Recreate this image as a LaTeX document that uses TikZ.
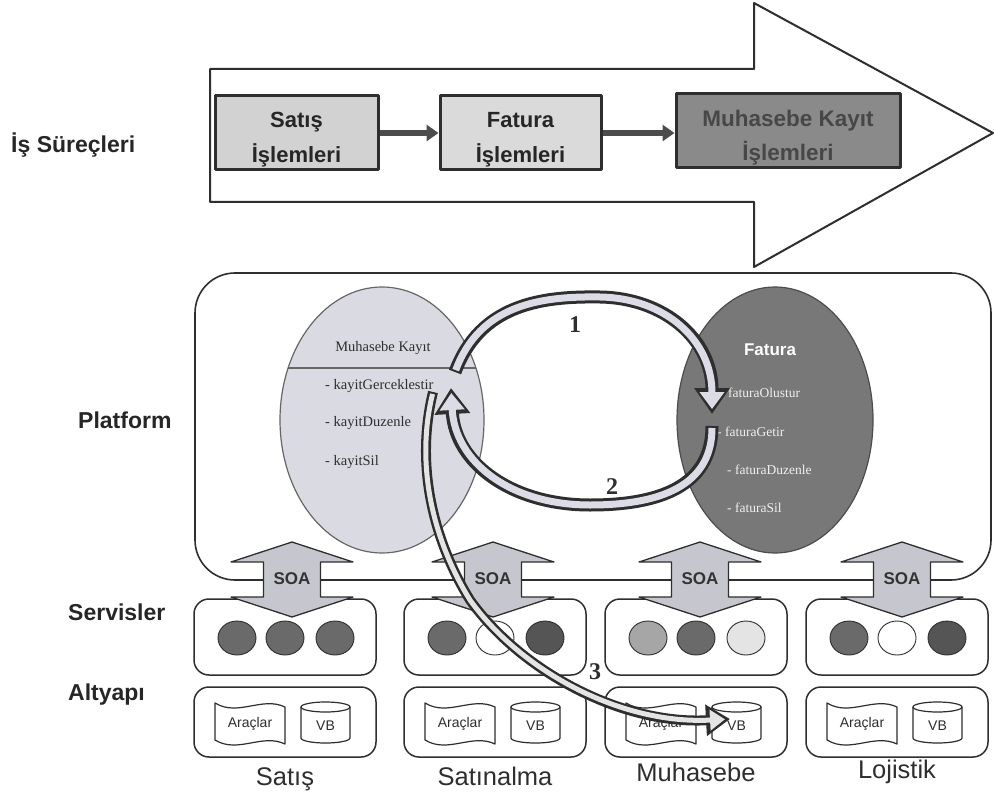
\documentclass[tikz,border=0pt]{standalone}
\usepackage{fontspec}
\setmainfont{Liberation Serif}
\setsansfont{Liberation Sans}
\usetikzlibrary{arrows.meta,shapes.geometric}
\definecolor{ink}{HTML}{2E2E2E}
\definecolor{boxA}{HTML}{D2D2D2}
\definecolor{boxB}{HTML}{DADADA}
\definecolor{boxC}{HTML}{8A8A8A}
\definecolor{ellA}{HTML}{DADAE2}
\definecolor{ellB}{HTML}{787878}
\definecolor{soafill}{HTML}{C6C6CE}
\definecolor{arrfill}{HTML}{DCDCE6}
\definecolor{cdark}{HTML}{6A6A6A}
\definecolor{cdarker}{HTML}{555555}
\definecolor{cmid}{HTML}{A6A6A6}
\definecolor{clight}{HTML}{E4E4E4}
\tikzset{
  lbl/.style={font=\sffamily\bfseries\fontsize{23}{24}\selectfont, text=black!85, inner sep=0},
  proc/.style={draw=ink, line width=3pt, minimum height=74pt, inner sep=0},
  proct/.style={align=center, inner sep=0, font=\sffamily\bfseries\fontsize{22}{35}\selectfont, text=black!85},
  conn/.style={draw=black!70, line width=5.5pt, -{Triangle[length=12pt,width=16pt]}},
  bigarrow/.style={draw=ink, line width=2pt, fill=white},
  frame/.style={draw=ink, line width=1.6pt, rounded corners=40pt, fill=white},
  mtxt/.style={font=\rmfamily\fontsize{14.5}{15}\selectfont, text=ink, inner sep=0},
  ftxt/.style={font=\rmfamily\fontsize{13.5}{15}\selectfont, text=white!94!black, inner sep=0},
  ftitle/.style={font=\sffamily\bfseries\fontsize{17}{18}\selectfont, text=white, inner sep=0},
  rbox/.style={draw=ink, line width=1.5pt, rounded corners=15pt, minimum width=182pt, fill=white},
  circ/.style={ellipse, draw=ink, line width=0.9pt, minimum width=38pt, minimum height=34pt, inner sep=0},
  tape/.style={draw=ink, line width=1.2pt, fill=white},
  cyl/.style={draw=ink, line width=1.2pt, fill=white},
  small/.style={font=\sffamily\fontsize{14}{15}\selectfont, text=ink, inner sep=0},
  soa/.style={draw=ink, line width=1.3pt, fill=soafill},
  soatxt/.style={font=\sffamily\bfseries\fontsize{17}{18}\selectfont, text=black!80, inner sep=0},
  bottom/.style={font=\sffamily\fontsize{25.5}{26}\selectfont, text=ink, inner sep=0, anchor=base},
  num/.style={font=\rmfamily\bfseries\fontsize{24}{24}\selectfont, text=ink, inner sep=0},
  bigout/.style={draw=ink, line width=13pt, -{Triangle[length=26pt,width=34pt]}},
  bigin/.style={draw=arrfill, line width=7pt, shorten >=5pt, shorten <=2pt, -{Triangle[length=17pt,width=24pt]}},
  thinout/.style={draw=ink, line width=10pt, -{Triangle[length=24pt,width=30pt]}},
  thinin/.style={draw=clight, line width=5pt, shorten >=5pt, shorten <=2pt, -{Triangle[length=15pt,width=20pt]}}
}
\begin{document}
\begin{tikzpicture}[x=1pt,y=-1pt,line join=round]
\useasboundingbox (0,0) rectangle (995,794);
\fill[white] (0,0) rectangle (995,794);

% ---- left labels
\node[lbl, anchor=west] (lsurec) at (11,145) {İş Süreçleri};
\node[lbl, anchor=west] (lplat) at (78,420) {Platform};
\node[lbl, anchor=west] (lserv) at (68,612) {Servisler};
\node[lbl, anchor=west] (lalt) at (68,695) {Altyapı};

% ---- process arrow
\draw[bigarrow] (210,69) -- (754,69) -- (754,3) -- (993,133) -- (754,267) -- (754,202) -- (210,202) -- cycle;
\node[proc, fill=boxA, minimum width=163pt] (p1) at (296.5,133) {};
\node[proc, fill=boxB, minimum width=161pt] (p2) at (520.5,133) {};
\node[proc, fill=boxC, minimum width=224pt] (p3) at (788,131) {};
\node[proct] (p1t) at (296.5,140) {Satış\\İşlemleri};
\node[proct] (p2t) at (520.5,140) {Fatura\\İşlemleri};
\node[proct, text=black!72, font=\sffamily\bfseries\fontsize{22.5}{34}\selectfont] (p3t) at (788,138) {Muhasebe Kayıt\\İşlemleri};
\draw[conn] (p1.east) -- (p2.west |- p1.east);
\draw[conn] (p2.east) -- (p3.west |- p2.east);

% ---- platform
\draw[frame] (195,273) rectangle (991,580);
\node[ellipse, draw=black!60, line width=1.2pt, fill=ellA, minimum width=204pt, minimum height=266pt] (mk) at (382,420) {};
\draw[black!60, line width=1.2pt] (288,368) -- (476,368);
\node[mtxt] (mkt) at (383,348) {Muhasebe Kayıt};
\node[mtxt, anchor=west] (k1) at (325,386) {- kayitGerceklestir};
\node[mtxt, anchor=west] (k2) at (325,423) {- kayitDuzenle};
\node[mtxt, anchor=west] (k3) at (325,462) {- kayitSil};

\node[ellipse, draw=black!70, line width=1.2pt, fill=ellB, minimum width=196pt, minimum height=266pt] (fa) at (775,420) {};
\node[ftitle] (fat) at (770,350) {Fatura};
\node[ftxt, anchor=west] (f1) at (720,393) {- faturaOlustur};
\node[ftxt, anchor=west] (f2) at (717,432) {- faturaGetir};
\node[ftxt, anchor=west] (f3) at (727,470) {- faturaDuzenle};
\node[ftxt, anchor=west] (f4) at (727,508) {- faturaSil};

% ---- services & infrastructure
\foreach \cx/\n/\ca/\cb/\cc in {285/1/cdark/cdark/cdark, 495/2/cdark/white/cdarker, 696/3/cmid/cdark/clight, 897/4/cdark/white/cdarker} {
  \node[rbox, minimum height=76pt] (sv\n) at (\cx,637) {};
  \node[circ, fill=\ca] (ca\n) at (\cx-48,638) {};
  \node[circ, fill=\cb] (cb\n) at (\cx,638) {};
  \node[circ, fill=\cc] (cc\n) at (\cx+50,638) {};
  \node[rbox, minimum height=70pt] (in\n) at (\cx,722) {};
  \draw[tape] (\cx-70,703) .. controls (\cx-47,717) and (\cx-23,696) .. (\cx,707) -- (\cx,744)
     .. controls (\cx-23,733) and (\cx-47,754) .. (\cx-70,740) -- cycle;
  \node[small] (ar\n) at (\cx-35,724) {Araçlar};
  \draw[cyl] (\cx+16,707) -- (\cx+16,738) arc[start angle=180, end angle=0, x radius=24.5, y radius=5]
     -- (\cx+65,707) arc[start angle=0, end angle=-180, x radius=24.5, y radius=5] -- cycle;
  \draw[ink, line width=1.2pt] (\cx+16,707) arc[start angle=180, end angle=0, x radius=24.5, y radius=5];
  \node[small] (vb\n) at (\cx+40.5,726) {VB};
}
\node[bottom] (b1) at (285,785) {Satış};
\node[bottom] (b2) at (495,785) {Satınalma};
\node[bottom] (b3) at (696,781) {Muhasebe};
\node[bottom] (b4) at (897,778) {Lojistik};

% ---- SOA arrows
\foreach \c/\n in {292/1,493/2,700/3,902/4} {
  \draw[soa] (\c,542) -- (\c+61,562) -- (\c+28.5,562) -- (\c+28.5,597) -- (\c+61,597) -- (\c,617)
     -- (\c-61,597) -- (\c-28.5,597) -- (\c-28.5,562) -- (\c-61,562) -- cycle;
  \node[soatxt] (soa\n) at (\c,579) {SOA};
}

% ---- curved call arrows
\coordinate (a3s) at (433,392);
\coordinate (a3m) at (470,600);
\coordinate (a3e) at (730,719);
\draw[thinout] (a3s) .. controls (414,470) and (436,545) .. (a3m) .. controls (520,670) and (620,725) .. (a3e);
\draw[thinin] (a3s) .. controls (414,470) and (436,545) .. (a3m) .. controls (520,670) and (620,725) .. (a3e);

\coordinate (a2s) at (712,426);
\coordinate (a2m) at (590,505);
\coordinate (a2e) at (451,388);
\draw[bigout] (a2s) .. controls (712,480) and (670,505) .. (a2m) .. controls (510,505) and (455,462) .. (a2e);
\draw[bigin] (a2s) .. controls (712,480) and (670,505) .. (a2m) .. controls (510,505) and (455,462) .. (a2e);

\coordinate (a1s) at (455,372);
\coordinate (a1m) at (600,297);
\coordinate (a1e) at (712,414);
\draw[bigout] (a1s) .. controls (480,305) and (540,296) .. (a1m) .. controls (665,298) and (712,340) .. (a1e);
\draw[bigin] (a1s) .. controls (480,305) and (540,296) .. (a1m) .. controls (665,298) and (712,340) .. (a1e);

\node[num] (n1) at (575,325) {1};
\node[num] (n2) at (612,487) {2};
\node[num] (n3) at (595,672) {3};
\end{tikzpicture}
\end{document}
